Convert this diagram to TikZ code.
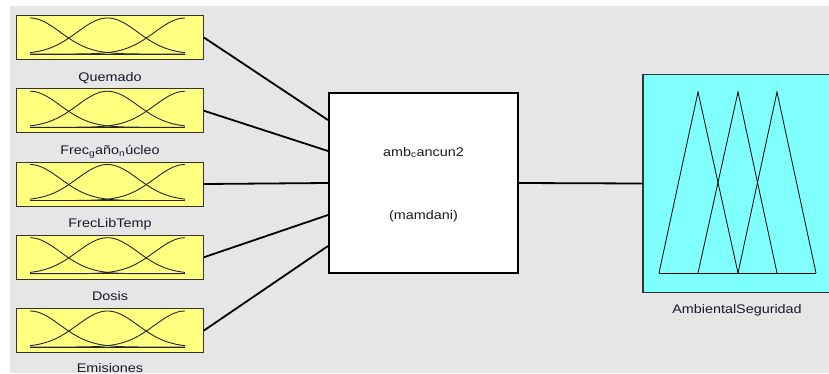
\documentclass[tikz,border=0pt]{standalone}
\usepackage{fontspec}
\setmainfont[FakeStretch=1.15]{Liberation Sans}
\usetikzlibrary{calc}
\definecolor{bggray}{RGB}{230,230,230}
\definecolor{inyellow}{RGB}{255,255,128}
\definecolor{outcyan}{RGB}{128,255,255}
\definecolor{txt}{RGB}{25,25,45}
\begin{document}
\begin{tikzpicture}[x=1pt,y=-1pt,
  inbox/.style={draw=black!80,line width=0.9pt,fill=inyellow,minimum width=187pt,minimum height=44pt,inner sep=0pt},
  fisbox/.style={draw=black,line width=2pt,fill=white,minimum width=189pt,minimum height=180pt,inner sep=0pt},
  outbox/.style={draw=black!80,line width=1.2pt,fill=outcyan,minimum width=187pt,minimum height=218pt,inner sep=0pt},
  lbl/.style={font=\fontsize{12.5}{14}\selectfont,text=txt,anchor=base,inner sep=0pt},
  conn/.style={line width=1.8pt,black},
  mf/.style={line width=0.9pt,black!85}]
\useasboundingbox (0,0) rectangle (829,373);
\fill[bggray] (10,6) rectangle (829,373);
% input boxes
\node[inbox] (in1) at (110,37.5) {};
\node[inbox] (in2) at (110,110.75) {};
\node[inbox] (in3) at (110,184) {};
\node[inbox] (in4) at (110,257.25) {};
\node[inbox] (in5) at (110,330.5) {};
% membership functions
\foreach \T in {15,88.25,161.5,234.75,308} {
  \draw[mf] (30,\T+39) -- (185,\T+39);
  \foreach \c in {0,0.5,1}
    \draw[mf] plot[domain=0:1,samples=90,variable=\t] ({30+155*\t},{\T+39-36*exp(-((\t-\c)^2)/0.0764)});
}
% labels
\node[lbl] (l1) at (110,81) {Quemado};
\node[lbl] (l2) at (110,154.25) {Frec\textsubscript{g}año\textsubscript{n}úcleo};
\node[lbl] (l3) at (110,227.5) {FrecLibTemp};
\node[lbl] (l4) at (110,300.75) {Dosis};
\node[lbl] (l5) at (110,372) {Emisiones};
% FIS box
\node[fisbox] (fis) at (423.5,183) {};
\node[lbl] (fisname) at (423.5,156) {amb\textsubscript{c}ancun2};
\node[lbl] (fistype) at (423.5,219) {(mamdani)};
% output box
\node[outbox] (out) at (736.5,183.5) {};
\draw[line width=0.8pt,black] (659,273) -- (816,273);
\draw[line width=0.8pt,black] (659,273) -- (698,92) -- (738,273);
\draw[line width=0.8pt,black] (698,273) -- (738,92) -- (777,273);
\draw[line width=0.8pt,black] (738,273) -- (777,92) -- (816,273);
\node[lbl] (outname) at (737,313.5) {AmbientalSeguridad};
% connection points
\coordinate (p1) at ($(fis.west)+(0,-63)$);
\coordinate (p2) at ($(fis.west)+(0,-32)$);
\coordinate (p3) at (fis.west);
\coordinate (p4) at ($(fis.west)+(0,32)$);
\coordinate (p5) at ($(fis.west)+(0,63)$);
\draw[conn] (in1.east) -- (p1);
\draw[conn] (in2.east) -- (p2);
\draw[conn] (in3.east) -- (p3);
\draw[conn] (in4.east) -- (p4);
\draw[conn] (in5.east) -- (p5);
\draw[conn] (fis.east) -- (out.west);
\end{tikzpicture}
\end{document}
